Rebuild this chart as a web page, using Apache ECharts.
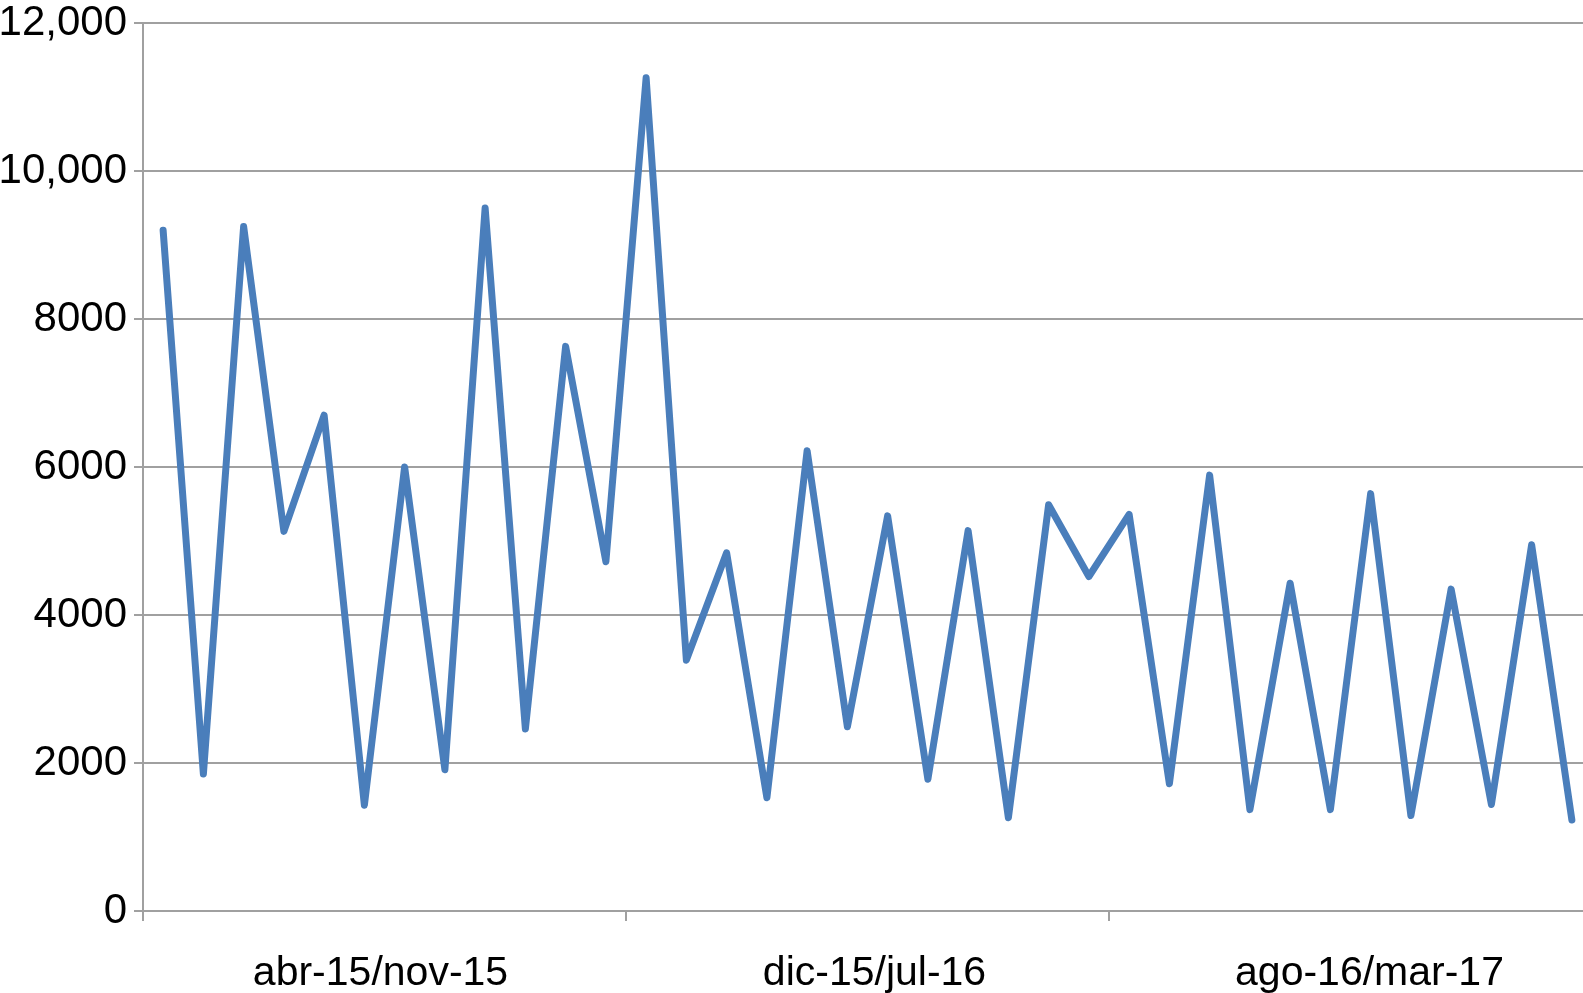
<!DOCTYPE html>
<html lang="es">
<head>
    <meta charset="UTF-8">
    <title>Serie</title>
    <script src="https://cdn.jsdelivr.net/npm/echarts@6.0.0/dist/echarts.min.js"></script>
    <style>
        body { padding: 0; margin: 0; background: #fff; }
        #chart { width: 1583px; height: 993px; }
    </style>
</head>
<body>
    <div id="chart"></div>

    <script>
        // periodos mostrados en el eje x (cada uno agrupa 12 puntos)
        const periodLabels = ['abr-15/nov-15', 'dic-15/jul-16', 'ago-16/mar-17'];
        // 36 puntos de la serie
        const pointLabels = Array.from({ length: 36 }, (_, i) => String(i + 1));
        const values = [
            9200, 1850, 9250, 5130, 6700, 1430, 6000, 1910, 9500, 2460, 7630, 4720,
            11260, 3390, 4840, 1530, 6220, 2490, 5340, 1780, 5140, 1260, 5490, 4520,
            5360, 1720, 5890, 1370, 4430, 1370, 5640, 1290, 4350, 1440, 4950, 1230
        ];
        const yTicks = [0, 2000, 4000, 6000, 8000, 10000, 12000];

        const gridColor = '#a0a0a0';
        const font = 'Liberation Sans';

        const chart = echarts.init(document.getElementById('chart'));
        chart.setOption({
            animation: false,
            grid: { left: 143, top: 23, width: 1449, bottom: 82, outerBoundsMode: 'none', containLabel: false },
            xAxis: [
                {
                    type: 'category',
                    position: 'bottom',
                    data: pointLabels,
                    boundaryGap: true,
                    show: false
                },
                {
                    type: 'category',
                    position: 'bottom',
                    data: periodLabels,
                    boundaryGap: true,
                    axisLine: { show: true, lineStyle: { color: gridColor, width: 2 } },
                    axisTick: { show: true, length: 10, lineStyle: { color: gridColor, width: 2 } },
                    axisLabel: {
                        margin: 42,
                        color: '#000',
                        fontSize: 41,
                        fontFamily: font,
                        // small per-label nudges to sit like the original
                        formatter: (v, i) => '{p' + i + '|' + v + '}',
                        rich: {
                            p0: { fontSize: 41, fontFamily: font, color: '#000', padding: [0, 8, 0, 0] },
                            p1: { fontSize: 41, fontFamily: font, color: '#000', padding: [0, 0, 0, 14] },
                            p2: { fontSize: 41, fontFamily: font, color: '#000', padding: [0, 0, 0, 38] }
                        }
                    },
                    splitLine: { show: false }
                }
            ],
            yAxis: {
                type: 'value',
                min: yTicks[0],
                max: yTicks[yTicks.length - 1],
                interval: 2000,
                axisLine: { show: true, lineStyle: { color: gridColor, width: 2 } },
                axisTick: { show: true, length: 9, lineStyle: { color: gridColor, width: 2 } },
                axisLabel: {
                    margin: 16,
                    color: '#000',
                    fontSize: 42,
                    fontFamily: font,
                    formatter: v => v >= 10000 ? v.toLocaleString('en-US') : String(v)
                },
                splitLine: { show: true, lineStyle: { color: gridColor, width: 2 } }
            },
            series: [{
                type: 'line',
                xAxisIndex: 0,
                data: values,
                showSymbol: false,
                lineStyle: { color: '#4a7ebb', width: 7, join: 'round', cap: 'round' }
            }]
        });
    </script>
</body>
</html>
